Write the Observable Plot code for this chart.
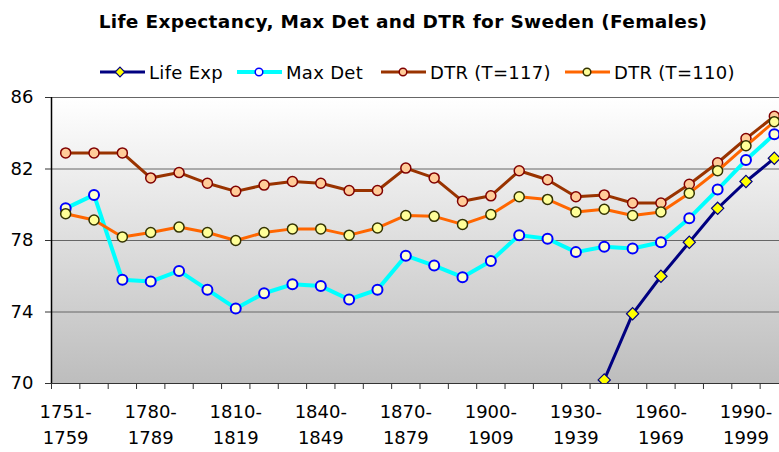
<!DOCTYPE html>
<html>
<head>
<meta charset="utf-8">
<script src="https://cdn.jsdelivr.net/npm/d3@7"></script>
<script src="https://cdn.jsdelivr.net/npm/@observablehq/plot@0.6"></script>
<style>
  html, body { margin: 0; padding: 0; background: #fff; }
  #wrap { width: 779px; height: 452px; overflow: hidden; font-family: "DejaVu Sans", sans-serif; }
  #wrap svg { display: block; }
</style>
</head>
<body>
<div id="wrap"></div>
<script>
// ---- data ----
const categories = ["1751-1759","1760-1769","1770-1779","1780-1789","1790-1799","1800-1809","1810-1819","1820-1829","1830-1839","1840-1849","1850-1859","1860-1869","1870-1879","1880-1889","1890-1899","1900-1909","1910-1919","1920-1929","1930-1939","1940-1949","1950-1959","1960-1969","1970-1979","1980-1989","1990-1999","2000-2005"];
const lifeExp = [null,null,null,null,null,null,null,null,null,null,null,null,null,null,null,null,null,null,65.4,70.2,73.9,76.0,77.9,79.8,81.3,82.6];
const maxDet = [79.8,80.55,75.8,75.7,76.3,75.25,74.2,75.05,75.55,75.45,74.7,75.25,77.15,76.6,75.95,76.85,78.3,78.1,77.35,77.65,77.55,77.9,79.25,80.85,82.5,83.95];
const dtr117 = [82.9,82.9,82.9,81.5,81.8,81.2,80.75,81.1,81.3,81.2,80.8,80.8,82.05,81.5,80.2,80.5,81.9,81.4,80.45,80.55,80.1,80.1,81.15,82.35,83.7,84.95];
const dtr110 = [79.5,79.15,78.2,78.45,78.75,78.45,78.0,78.45,78.65,78.65,78.3,78.7,79.4,79.35,78.9,79.45,80.45,80.3,79.6,79.75,79.4,79.6,80.65,81.9,83.3,84.65];
const seriesNames = ["Life Exp","Max Det","DTR (T=117)","DTR (T=110)"];
const yTicks = [70,74,78,82,86];
const labelIdx = [0,3,6,9,12,15,18,21,24];
const title = "Life Expectancy, Max Det and DTR for Sweden (Females)";

// ---- styles ----
const styles = [
  {line: "#000080", width: 3, fill: "#ffff00", stroke: "#000080", symbol: "diamond2", r: 5.5, sw: 1.2},
  {line: "#00ffff", width: 4, fill: "#ffffcc", stroke: "#0000ff", symbol: "circle", r: 5, sw: 2},
  {line: "#993300", width: 3, fill: "#ffcc99", stroke: "#800000", symbol: "circle", r: 5, sw: 1.5},
  {line: "#ff6600", width: 3, fill: "#ffff99", stroke: "#333300", symbol: "circle", r: 5, sw: 1.5}
];
const allSeries = [lifeExp, maxDet, dtr117, dtr110];
const rows = vals => vals.map((v, i) => ({i, v})).filter(d => d.v != null);

// ---- header (title + legend) ----
const wrap = d3.select("#wrap");
const head = wrap.append("svg").attr("width", 779).attr("height", 85);
head.append("text").attr("x", 403).attr("y", 28).attr("text-anchor", "middle")
  .attr("font-family", "DejaVu Sans").attr("font-weight", "bold").attr("font-size", 18.5)
  .attr("letter-spacing", 0.35)
  .text(title);
const legendX = [100, 237, 381, 565];
const legY = 72;
seriesNames.forEach((name, k) => {
  const s = styles[k], x0 = legendX[k];
  const g = head.append("g");
  g.append("line").attr("x1", x0).attr("x2", x0 + 45).attr("y1", legY).attr("y2", legY)
    .attr("stroke", s.line).attr("stroke-width", s.width);
  if (s.symbol === "diamond2") {
    g.append("path").attr("d", d3.symbol(d3.symbolDiamond2, 60)()).attr("transform", `translate(${x0 + 20},${legY})`)
      .attr("fill", s.fill).attr("stroke", s.stroke).attr("stroke-width", 1.2);
  } else {
    g.append("circle").attr("cx", x0 + 22).attr("cy", legY).attr("r", 3.8)
      .attr("fill", k === 1 ? "#ffffff" : s.fill).attr("stroke", s.stroke).attr("stroke-width", 1.5);
  }
  g.append("text").attr("x", x0 + 49).attr("y", legY + 6.5)
    .attr("font-family", "DejaVu Sans").attr("font-size", 18).attr("letter-spacing", 0.3).text(name);
});

// ---- chart ----
const marks = [
  Plot.frame({fill: "url(#bgGrad)", stroke: null}),
  Plot.ruleY(yTicks.slice(1), {stroke: "#666", strokeWidth: 1}),
  Plot.ruleX([-0.5], {stroke: "black", strokeWidth: 1.5}),
  Plot.ruleY([70], {stroke: "#333", strokeWidth: 1.2}),
  Plot.axisY({ticks: yTicks, tickSize: 6, tickPadding: 12, fontSize: 18, stroke: "#333", label: null}),
  Plot.axisX({ticks: d3.range(26).map(i => i - 0.5), tickFormat: () => "", tickSize: 6, stroke: "#333", label: null}),
  Plot.axisX({ticks: labelIdx, tickFormat: i => categories[i].replace("-", "-\n"), tickSize: 0, tickPadding: 16, fontSize: 18, lineHeight: 1.44, label: null})
];
allSeries.forEach((vals, k) => {
  const s = styles[k];
  marks.push(Plot.line(rows(vals), {x: "i", y: "v", stroke: s.line, strokeWidth: s.width, clip: true}));
  marks.push(Plot.dot(rows(vals), {x: "i", y: "v", r: s.r, symbol: s.symbol, fill: s.fill, stroke: s.stroke, strokeWidth: s.sw, clip: true}));
});

const chart = Plot.plot({
  width: 779, height: 367,
  marginTop: 12, marginBottom: 69, marginLeft: 51, marginRight: 0,
  style: {fontFamily: "DejaVu Sans", fontSize: "18px", background: "white", color: "black", overflow: "hidden"},
  x: {type: "linear", domain: [-0.5, 25.5], range: [51, 788], label: null},
  y: {domain: [70, 86], label: null},
  marks
});
d3.select(chart).insert("defs", ":first-child").html(
  '<linearGradient id="bgGrad" x1="0" y1="0" x2="0" y2="1"><stop offset="0" stop-color="#ffffff"/><stop offset="1" stop-color="#bdbdbd"/></linearGradient>'
);
const fr = chart.querySelector('[aria-label="frame"]');
if (fr) { (fr.tagName === "rect" ? fr : fr.querySelector("rect") || fr).setAttribute("fill", "url(#bgGrad)"); }
wrap.node().appendChild(chart);
</script>
</body>
</html>
